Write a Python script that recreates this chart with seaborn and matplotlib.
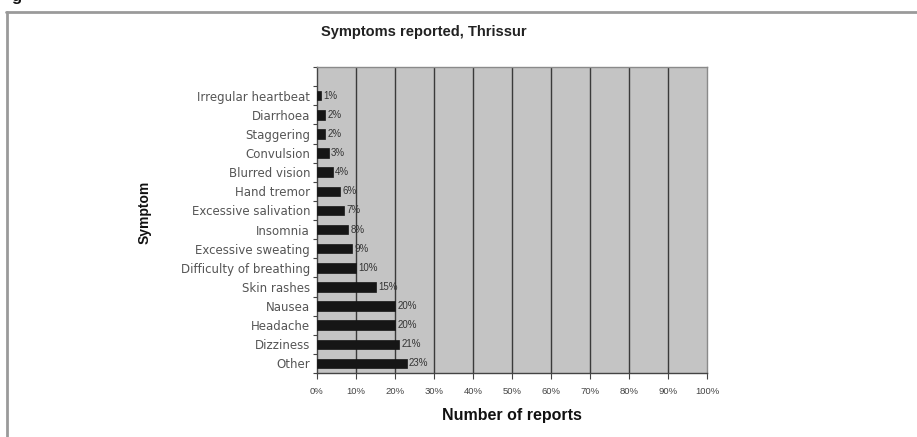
import matplotlib
matplotlib.use("Agg")
import matplotlib.pyplot as plt
import seaborn as sns
import pandas as pd
import numpy as np
from matplotlib.ticker import FixedLocator, FuncFormatter

symptoms = ["Irregular heartbeat", "Diarrhoea", "Staggering", "Convulsion",
            "Blurred vision", "Hand tremor", "Excessive salivation", "Insomnia",
            "Excessive sweating", "Difficulty of breathing", "Skin rashes",
            "Nausea", "Headache", "Dizziness", "Other"]
percent = [1, 2, 2, 3, 4, 6, 7, 8, 9, 10, 15, 20, 20, 21, 23]
x_ticks = [0, 10, 20, 30, 40, 50, 60, 70, 80, 90, 100]

title = "Symptoms reported, Thrissur"
xlabel = "Number of reports"
ylabel = "Symptom"

sns.set_theme(style="white")
plt.rcParams["font.family"] = ["Liberation Sans", "DejaVu Sans"]

df = pd.DataFrame({"Symptom": symptoms, "Percent": percent})

fig = plt.figure(figsize=(9.17, 4.37), dpi=100)
fig.patch.set_facecolor("white")
ax = fig.add_axes([317 / 917, 1 - 373 / 437, 390 / 917, 306 / 437])
ax.set_facecolor("#c4c4c4")

sns.barplot(data=df, y="Symptom", x="Percent", order=symptoms, orient="h",
            color="#161616", width=0.5, saturation=1, ax=ax, zorder=3,
            edgecolor="#161616", linewidth=0.5)

ax.set_xlim(0, 100)
ax.set_ylim(len(symptoms) - 0.5, -1.5)

# vertical gridlines
ax.xaxis.set_major_locator(FixedLocator(x_ticks))
ax.xaxis.set_major_formatter(FuncFormatter(lambda v, p: f"{int(v)}%"))
for t in x_ticks[1:-1]:
    ax.axvline(t, color="#3a3a3a", lw=1.0, zorder=1)

for s in ["top", "right"]:
    ax.spines[s].set_color("#8a8a8a")
    ax.spines[s].set_linewidth(1.0)
for s in ["left", "bottom"]:
    ax.spines[s].set_color("#444444")
    ax.spines[s].set_linewidth(1.0)

ax.tick_params(axis="x", which="major", direction="out", length=4, width=0.8,
               color="#444444", labelsize=6.8, labelcolor="#444444", pad=6,
               bottom=True)
ax.tick_params(axis="y", which="major", length=0, labelsize=8.5,
               labelcolor="#555555", pad=5, left=True)
for lab in ax.get_yticklabels():
    lab.set_fontfamily(["DejaVu Sans"])
ax.yaxis.set_minor_locator(FixedLocator(np.arange(-1.5, len(symptoms), 1.0)))
ax.tick_params(axis="y", which="minor", direction="out", length=3, width=0.8,
               color="#444444", left=True)

# value labels
for i, v in enumerate(percent):
    ax.text(v + 0.6, i, f"{v}%", va="center", ha="left", fontsize=7,
            color="#333333", zorder=4)

ax.set_xlabel(xlabel, fontsize=11.5, fontweight="bold", color="#111111",
              labelpad=9)
ax.set_ylabel("")
fig.text(145 / 917, 1 - 212 / 437, ylabel, rotation=90, fontsize=10,
         fontweight="bold", color="#111111", ha="center", va="center")
fig.text(424 / 917, 1 - 32 / 437, title, fontsize=10.5, fontweight="bold",
         color="#222222", ha="center", va="center")

# surrounding frame lines
fig.add_artist(plt.Line2D([6 / 917, 1.0], [1 - 11.5 / 437, 1 - 11.5 / 437],
                          color="#9a9a9a", lw=2.0))
fig.add_artist(plt.Line2D([7 / 917, 7 / 917], [1 - 11.5 / 437, 0.0],
                          color="#9a9a9a", lw=2.0))
# caption fragment at top-left
fig.text(11 / 917, 1 - 1 / 437, "g", fontsize=12, fontweight="bold",
         color="#111111", ha="left", va="baseline")

fig.savefig("out.png", dpi=100, facecolor="white")
